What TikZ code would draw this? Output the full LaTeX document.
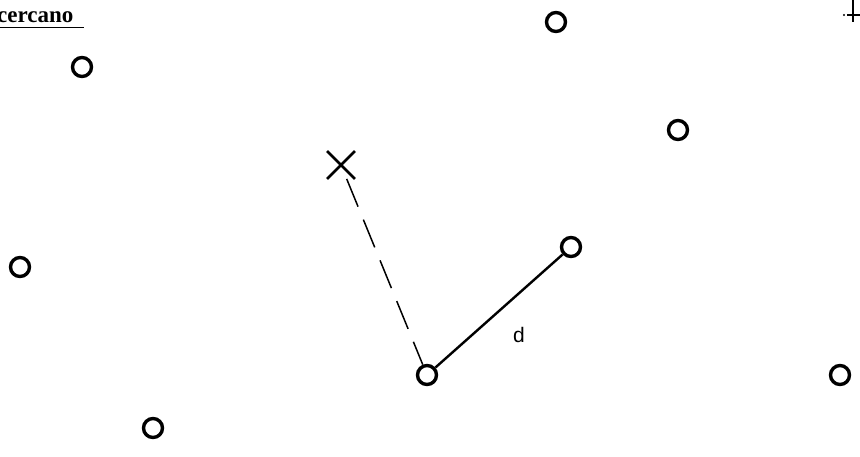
\documentclass[tikz,border=0pt]{standalone}
\usepackage{fontspec}
\setmainfont{Liberation Serif}
\setsansfont{Liberation Sans}
\usetikzlibrary{shapes.misc}

\begin{document}
\begin{tikzpicture}[
    x=1pt, y=-1pt,
    pt/.style={draw, circle, line width=3.4pt, minimum size=19pt, inner sep=0pt},
    qry/.style={draw, cross out, line width=2.8pt, minimum size=25pt, inner sep=0pt},
    near/.style={line width=2.4pt},
    guess/.style={line width=1.5pt, dash pattern=on 30pt off 14pt}
  ]
  \clip (0,0) rectangle (860,456);
  \fill[white] (0,0) rectangle (860,456);

  % heading, cut at the left edge
  \node[anchor=south west, inner sep=0pt, font=\fontsize{23}{27}\bfseries\selectfont] (title) at (-3,23) {cercano};
  \draw[line width=1.6pt] (-2,27.5) -- (84,27.5);

  % sample points
  \node[pt] (p1) at (82,67) {};
  \node[pt] (p2) at (556,22) {};
  \node[pt] (p3) at (678,130) {};
  \node[pt] (p4) at (20,267) {};
  \node[pt] (nn) at (571,247) {};
  \node[pt] (base) at (427,375) {};
  \node[pt] (p5) at (153,428) {};
  \node[pt] (p6) at (840,375) {};

  % query point
  \node[qry] (x) at (341,165) {};

  \draw[guess] (x) -- (base);
  \draw[near] (base) -- (nn);
  \node[font=\sffamily\fontsize{21}{25}\selectfont] (d) at (519,335) {d};

  % mark at the right edge
  \draw[line width=2.6pt] (853,0) -- (853,22);
  \draw[line width=2.6pt] (847,15) -- (862,15);
  \fill (844,15) circle (1.2pt);
\end{tikzpicture}
\end{document}
